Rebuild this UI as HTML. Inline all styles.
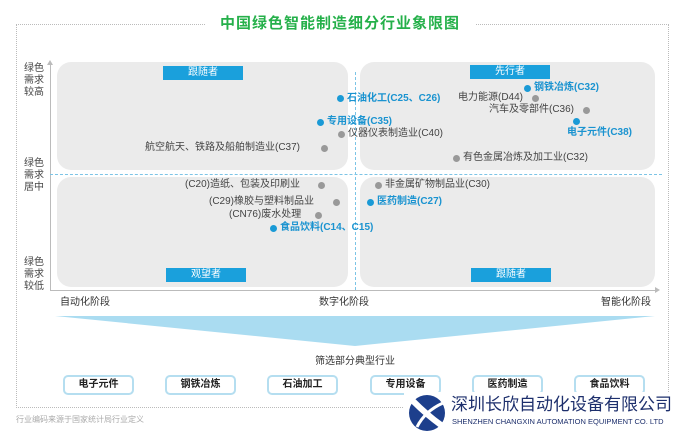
<!DOCTYPE html><html><head><meta charset="utf-8"><style>
body{margin:0;width:680px;height:432px;background:#fff;position:relative;overflow:hidden;font-family:"Liberation Sans","Noto Sans CJK SC",sans-serif}
.a{position:absolute;white-space:nowrap}
.q{position:absolute;background:#ebebeb;border-radius:14px}
.tag{position:absolute;background:#1aa0dc;color:#fff;font-size:10px;text-align:center;line-height:14px;height:14px;width:80px}
.t{position:absolute;font-size:10px;color:#444;line-height:12px;white-space:nowrap}
.b{color:#1a93d0;font-weight:bold}
.d{position:absolute;width:7px;height:7px;border-radius:50%;background:#999}
.db{background:#1a9ad6}
.yl{position:absolute;left:24px;font-size:10px;color:#444;line-height:12px;width:22px}
.btn{position:absolute;top:375px;width:67px;height:16px;border:2px solid #b5def0;border-radius:5px;background:#fff;font-size:10px;font-weight:bold;text-align:center;line-height:16px;color:#222}
</style></head><body>
<div class="a" style="left:16px;top:24px;width:651px;height:382px;border:1px dotted #bbb"></div>
<div class="a" style="left:205px;top:13px;width:270px;height:20px;background:#fff"></div>
<div class="a" style="left:0;width:680px;top:12px;text-align:center;font-size:15px;font-weight:bold;color:#25b04a;letter-spacing:1px">中国绿色智能制造细分行业象限图</div>
<div class="q" style="left:57px;top:62px;width:291px;height:108px"></div>
<div class="q" style="left:360px;top:62px;width:295px;height:108px"></div>
<div class="q" style="left:57px;top:177px;width:291px;height:110px"></div>
<div class="q" style="left:360px;top:177px;width:295px;height:110px"></div>
<div class="a" style="left:50px;top:64px;width:1px;height:226px;background:#bbb"></div>
<div class="a" style="left:47px;top:60px;border:3px solid transparent;border-bottom:5px solid #bbb;border-top:0"></div>
<div class="a" style="left:50px;top:290px;width:605px;height:1px;background:#bbb"></div>
<div class="a" style="left:655px;top:287px;border:3px solid transparent;border-left:5px solid #bbb;border-right:0"></div>
<div class="a" style="left:50px;top:174px;width:612px;border-top:1px dashed #7cc4e6"></div>
<div class="a" style="left:355px;top:72px;height:218px;border-left:1px dashed #7cc4e6"></div>
<div class="tag" style="left:163px;top:66px">跟随者</div>
<div class="tag" style="left:470px;top:65px">先行者</div>
<div class="tag" style="left:166px;top:268px">观望者</div>
<div class="tag" style="left:471px;top:268px">跟随者</div>
<div class="yl" style="top:63px">绿色<br>需求<br>较高</div>
<div class="yl" style="top:158px">绿色<br>需求<br>居中</div>
<div class="yl" style="top:257px">绿色<br>需求<br>较低</div>
<div class="d db" style="left:337px;top:95px"></div><div class="t b" style="left:347px;top:93px">石油化工(C25、C26)</div>
<div class="d db" style="left:317px;top:119px"></div><div class="t b" style="left:327px;top:116px">专用设备(C35)</div>
<div class="d" style="left:338px;top:131px"></div><div class="t" style="left:348px;top:128px">仪器仪表制造业(C40)</div>
<div class="t" style="left:145px;top:142px">航空航天、铁路及船舶制造业(C37)</div><div class="d" style="left:321px;top:145px"></div>
<div class="d db" style="left:524px;top:85px"></div><div class="t b" style="left:534px;top:82px">钢铁冶炼(C32)</div>
<div class="t" style="left:458px;top:92px">电力能源(D44)</div><div class="d" style="left:532px;top:95px"></div>
<div class="t" style="left:489px;top:104px">汽车及零部件(C36)</div><div class="d" style="left:583px;top:107px"></div>
<div class="d db" style="left:573px;top:118px"></div><div class="t b" style="left:567px;top:127px">电子元件(C38)</div>
<div class="d" style="left:453px;top:155px"></div><div class="t" style="left:463px;top:152px">有色金属冶炼及加工业(C32)</div>
<div class="d" style="left:375px;top:182px"></div><div class="t" style="left:385px;top:179px">非金属矿物制品业(C30)</div>
<div class="d db" style="left:367px;top:199px"></div><div class="t b" style="left:377px;top:196px">医药制造(C27)</div>
<div class="t" style="left:185px;top:179px">(C20)造纸、包装及印刷业</div><div class="d" style="left:318px;top:182px"></div>
<div class="t" style="left:209px;top:196px">(C29)橡胶与塑料制品业</div><div class="d" style="left:333px;top:199px"></div>
<div class="t" style="left:229px;top:209px">(CN76)废水处理</div><div class="d" style="left:315px;top:212px"></div>
<div class="d db" style="left:270px;top:225px"></div><div class="t b" style="left:280px;top:222px">食品饮料(C14、C15)</div>
<div class="t" style="left:60px;top:297px;color:#333">自动化阶段</div>
<div class="t" style="left:319px;top:297px;color:#333">数字化阶段</div>
<div class="t" style="left:601px;top:297px;color:#333">智能化阶段</div>
<svg class="a" style="left:0;top:0" width="680" height="432"><polygon points="55,316 655,316 355,346" fill="#aadcf1"/></svg>
<div class="t" style="left:315px;top:356px;font-size:10px;color:#333">筛选部分典型行业</div>
<div class="btn" style="left:63px">电子元件</div>
<div class="btn" style="left:165px">钢铁冶炼</div>
<div class="btn" style="left:267px">石油加工</div>
<div class="btn" style="left:370px">专用设备</div>
<div class="btn" style="left:472px">医药制造</div>
<div class="btn" style="left:574px">食品饮料</div>
<div class="t" style="left:16px;top:414px;font-size:8px;color:#aaa">行业编码来源于国家统计局行业定义</div>
<div class="a" style="left:404px;top:392px;width:276px;height:40px;background:#fff"></div>
<svg class="a" style="left:407px;top:393px" width="40" height="39"><circle cx="20" cy="20" r="18" fill="#1d3f8c"/><path d="M6 8 Q20 22 34 32" stroke="#fff" stroke-width="6" fill="none"/><path d="M10 34 Q18 18 36 10" stroke="#fff" stroke-width="3" fill="none"/></svg>
<div class="a" style="left:451px;top:394px;font-size:17px;color:#1d2f6c;line-height:22px">深圳长欣自动化设备有限公司</div>
<div class="a" style="left:452px;top:417px;font-size:7.5px;color:#1d2f6c">SHENZHEN CHANGXIN AUTOMATION EQUIPMENT CO. LTD</div>
</body></html>
